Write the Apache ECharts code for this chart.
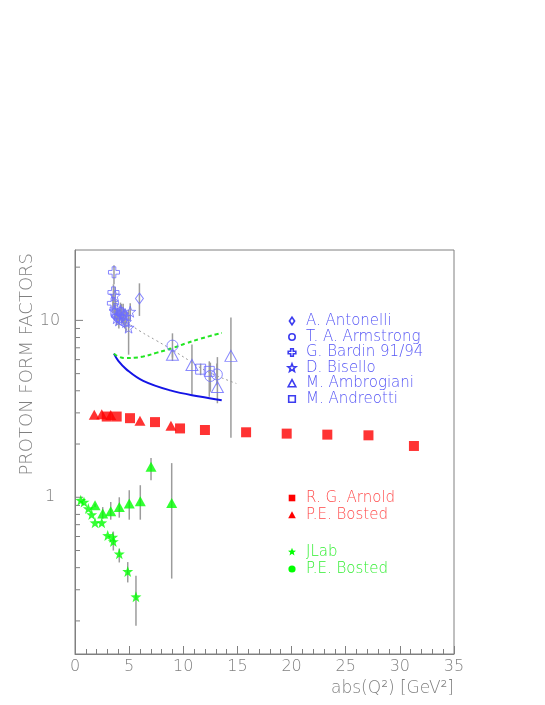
<!DOCTYPE html>
<html><head><meta charset="utf-8">
<script src="https://cdn.jsdelivr.net/npm/echarts@6/dist/echarts.min.js"></script>
<style>html,body{margin:0;padding:0;background:#fff}#c{width:545px;height:705px}</style>
</head><body><div id="c"></div>
<script>
// ---------- data ----------
const xMin = 0, xMax = 35, xStep = 5;
const yMin = 0.13, yMax = 25;
const yLabelValues = [1, 10];
const yMajorTicks = [1, 10];
const yMinorTicks = [0.2,0.3,0.4,0.5,0.6,0.7,0.8,0.9,2,3,4,5,6,7,8,9,20];

// [Q2, value, errLow, errHigh]
const antonelli = [[5.95,13.3,10.6,16.2]];
const armstrong = [[3.8,10.9,10.2,11.6],[4.1,10.4,9.8,11.0],[4.35,10.1,9.6,10.7],[9.0,7.2,6.17,8.45],[12.5,4.85,3.95,5.77],[13.1,4.95,4.3,5.7]];
const bardin = [[3.6,18.7,16.0,20.5],[3.55,14.4,12.0,16.0],[3.5,12.5,11.0,14.0],[3.75,11.6,10.2,13.0],[3.95,10.6,9.6,11.8],[4.3,11.0,9.8,12.4],[4.6,10.4,9.0,11.6]];
const bisello = [[3.7,13.8,12.0,15.5],[3.65,11.3,10.0,12.5],[3.85,10.3,9.4,11.3],[4.05,10.0,9.0,11.2],[4.2,11.4,10.2,12.6],[4.45,10.8,9.5,12.4],[4.7,9.8,8.6,11.2],[4.95,9.1,6.4,11.5],[5.1,11.2,10.0,12.5]];
const ambrogiani = [[9.0,6.4,5.9,7.0],[10.8,5.6,3.8,7.3],[13.15,4.2,3.4,6.2],[14.4,6.3,2.17,10.4]];
const andreotti = [[11.6,5.3,4.9,5.7],[12.4,5.15,3.7,5.87]];
const arnold = [[2.93,2.86],[3.85,2.86],[5.08,2.80],[7.39,2.66],[9.7,2.45],[12.0,2.40],[15.8,2.33],[19.55,2.29],[23.3,2.26],[27.1,2.24],[31.3,1.95]];
const bostedRed = [[1.78,2.93],[2.47,2.95],[3.3,2.92],[6.0,2.71],[8.86,2.54]];
const jlab = [[0.53,0.962],[0.83,0.94],[1.23,0.863],[1.54,0.798],[1.85,0.718],[2.47,0.718],[3.02,0.608],[3.48,0.595],[3.54,0.562,0.50,0.64],[4.09,0.479,0.428,0.513],[4.87,0.381,0.33,0.43],[5.63,0.274,0.188,0.36]];
const bostedGreen = [[1.85,0.90,0.88,0.92],[2.56,0.81,0.755,0.88],[3.30,0.833,0.747,0.94],[4.09,0.881,0.767,1.0],[5.01,0.921,0.747,1.096],[6.03,0.949,0.747,1.17],[7.02,1.49,1.25,1.67],[8.93,0.928,0.347,1.56]];
const bostedGreenCircles = [];
const fitDotted = [[4.0,10.5],[6.0,8.7],[7.5,7.7],[9.0,6.8],[10.6,5.9],[12.2,5.15],[14.9,4.4]];
const curveBlue = [[3.6,6.49],[4.0,5.9],[4.77,5.27],[6.3,4.55],[8.8,4.02],[11.5,3.71],[13.55,3.54]];
const curveGreen = [[3.6,6.49],[4.0,6.25],[4.7,6.12],[5.5,6.15],[6.3,6.25],[7.5,6.55],[9.08,7.0],[10.2,7.4],[11.5,7.85],[13.55,8.5]];

const legendBlue = ['A. Antonelli','T. A. Armstrong','G. Bardin 91/94','D. Bisello','M. Ambrogiani','M. Andreotti'];
const legendRed = ['R. G. Arnold','P.E. Bosted'];
const legendGreen = ['JLab','P.E. Bosted'];
const yTitle = 'PROTON FORM FACTORS';
const xTitle = 'abs(Q\u00B2) [GeV\u00B2]';

// ---------- style ----------
const BLUE = '#6b6bff', BLUE_TXT = '#5555f5', RED = '#ff0000', RED_TXT = '#ff4a4a', GREEN = '#00ff00', GREEN_TXT = '#33ee33', GRAY = '#808080';
const FONT = 'DejaVu Sans';
const STAR = 'path://M0,-10L2.35,-3.24L9.51,-3.09L3.8,1.24L5.88,8.09L0,4L-5.88,8.09L-3.8,1.24L-9.51,-3.09L-2.35,-3.24Z';
const CROSS = 'path://M-1,-3L1,-3L1,-1L3,-1L3,1L1,1L1,3L-1,3L-1,1L-3,1L-3,-1L-1,-1Z';

const chart = echarts.init(document.getElementById('c'), null, {renderer: 'canvas'});

function hollow(name, data, symbol, size) {
  return {name, type: 'scatter', data, symbol, symbolSize: size, z: 5,
    itemStyle: {color: 'rgba(0,0,0,0)', borderColor: BLUE, borderWidth: 1}, encode: {x: 0, y: 1}};
}
function filled(name, data, symbol, size, color) {
  return {name, type: 'scatter', data, symbol, symbolSize: size, z: 5,
    itemStyle: {color, borderWidth: 0}, encode: {x: 0, y: 1}};
}
const errData = [].concat(antonelli, armstrong, bardin, bisello, ambrogiani, andreotti, jlab, bostedGreen).filter(d => d.length === 4);
function errRender(params, api) {
  const x = api.value(0);
  const a = api.coord([x, api.value(2)]), b = api.coord([x, api.value(3)]);
  return {type: 'line', shape: {x1: a[0], y1: a[1], x2: b[0], y2: b[1]}, style: {stroke: '#9c9c9c', lineWidth: 1.5}};
}
function tickRender(len) {
  return function (params, api) {
    const p = api.coord([0, api.value(1)]);
    return {type: 'line', shape: {x1: p[0], y1: p[1], x2: p[0] + len, y2: p[1]}, style: {stroke: GRAY, lineWidth: 1}};
  };
}

// legend markers (graphic)
function poly(pts, cx, cy) { return pts.map(p => [cx + p[0], cy + p[1]]); }
function starPts(R, r) { const o = []; for (let i = 0; i < 10; i++) { const a = -Math.PI / 2 + i * Math.PI / 5, rr = i % 2 ? r : R; o.push([rr * Math.cos(a), rr * Math.sin(a)]); } return o; }
function marker(kind, cx, cy, color, fill) {
  const style = fill ? {fill: color, stroke: null} : {fill: null, stroke: color, lineWidth: 1.6};
  if (kind === 'circle') return {type: 'circle', shape: {cx, cy, r: fill ? 3.6 : 3.2}, style};
  if (kind === 'square') return {type: 'rect', shape: {x: cx - 3.3, y: cy - 3.3, width: 6.6, height: 6.6}, style};
  let pts;
  if (kind === 'diamond') pts = [[0,-3.8],[2.6,0],[0,3.8],[-2.6,0]];
  if (kind === 'triangle') pts = [[0,-3.8],[3.8,3.2],[-3.8,3.2]];
  if (kind === 'cross') pts = [[-1.3,-3.8],[1.3,-3.8],[1.3,-1.3],[3.8,-1.3],[3.8,1.3],[1.3,1.3],[1.3,3.8],[-1.3,3.8],[-1.3,1.3],[-3.8,1.3],[-3.8,-1.3],[-1.3,-1.3]];
  if (kind === 'star') pts = starPts(4.2, 1.8);
  return {type: 'polygon', shape: {points: poly(pts, cx, cy)}, style};
}
function label(text, x, y, color) {
  return {type: 'text', x, y, style: {text, fill: color, fontSize: 15, fontFamily: FONT, fontWeight: 200, align: 'left', verticalAlign: 'middle'}};
}
const graphics = [];
const blueKinds = ['diamond','circle','cross','star','triangle','square'];
const blueY = [321, 337, 352.5, 368, 383.5, 399];
legendBlue.forEach((t, i) => { graphics.push(marker(blueKinds[i], 292, blueY[i], '#3c3cf0', false)); graphics.push(label(t, 306, blueY[i], BLUE_TXT)); });
const redY = [498, 515];
graphics.push(marker('square', 292, redY[0], RED, true)); graphics.push(label(legendRed[0], 306, redY[0], RED_TXT));
graphics.push(marker('triangle', 292, redY[1], RED, true)); graphics.push(label(legendRed[1], 306, redY[1], RED_TXT));
const greenY = [552, 569];
graphics.push(marker('star', 292, greenY[0], GREEN, true)); graphics.push(label(legendGreen[0], 306, greenY[0], GREEN_TXT));
graphics.push(marker('circle', 292, greenY[1], GREEN, true)); graphics.push(label(legendGreen[1], 306, greenY[1], GREEN_TXT));
graphics.push({type: 'text', x: 27, y: 253, rotation: Math.PI / 2,
  style: {text: yTitle, fill: GRAY, fontSize: 18, fontFamily: FONT, fontWeight: 200, align: 'right', verticalAlign: 'middle'}});
graphics.push({type: 'text', x: 454, y: 689,
  style: {text: xTitle, fill: GRAY, fontSize: 17, fontFamily: FONT, fontWeight: 200, align: 'right', verticalAlign: 'middle'}});

const option = {
  animation: false,
  backgroundColor: '#fff',
  grid: {left: 75, right: 91, top: 250, bottom: 51, show: true, borderColor: GRAY, borderWidth: 1, containLabel: false},
  xAxis: {type: 'value', min: xMin, max: xMax, interval: xStep,
    axisLine: {lineStyle: {color: GRAY, width: 1}},
    axisTick: {inside: true, length: 8, lineStyle: {color: GRAY}},
    minorTick: {show: true, splitNumber: 5, length: 5, lineStyle: {color: GRAY}},
    splitLine: {show: false},
    axisLabel: {color: GRAY, fontSize: 16, fontFamily: FONT, fontWeight: 200, margin: 5}},
  yAxis: {type: 'log', logBase: 10, min: yMin, max: yMax,
    axisLine: {lineStyle: {color: GRAY, width: 1}},
    axisTick: {show: false}, splitLine: {show: false}, minorTick: {show: false},
    axisLabel: {color: GRAY, fontSize: 16, fontFamily: FONT, fontWeight: 200, margin: 25, align: 'center',
      showMinLabel: true, showMaxLabel: true,
      formatter: v => { const m = yLabelValues.find(t => Math.abs(Math.log10(v) - Math.log10(t)) < 1e-6); return m === undefined ? '' : String(m); }}},
  graphic: graphics,
  series: [
    {type: 'custom', name: 'minorTicks', data: yMinorTicks.map(v => [0, v]), renderItem: tickRender(5), clip: false, silent: true, z: 1},
    {type: 'custom', name: 'majorTicks', data: yMajorTicks.map(v => [0, v]), renderItem: tickRender(8), clip: false, silent: true, z: 1},
    {type: 'custom', name: 'errors', data: errData, renderItem: errRender, silent: true, z: 2, encode: {x: 0, y: [1, 2, 3]}},
    {type: 'line', name: 'fit', data: fitDotted, smooth: true, showSymbol: false, z: 3, lineStyle: {color: '#9a9a9a', width: 1, type: [2, 3]}},
    {type: 'line', name: 'curveBlue', data: curveBlue, smooth: 0.4, showSymbol: false, z: 3, lineStyle: {color: '#1414e6', width: 2}},
    {type: 'line', name: 'curveGreen', data: curveGreen, smooth: true, showSymbol: false, z: 3, lineStyle: {color: '#22e622', width: 2, type: [4, 3]}},
    hollow(legendBlue[0], antonelli, 'diamond', [8, 11]),
    hollow(legendBlue[1], armstrong, 'circle', 11),
    hollow(legendBlue[2], bardin, CROSS, 11),
    hollow(legendBlue[3], bisello, STAR, 11),
    hollow(legendBlue[4], ambrogiani, 'triangle', [12, 11]),
    hollow(legendBlue[5], andreotti, 'rect', 10),
    filled(legendRed[0], arnold, 'rect', 10, RED),
    filled(legendRed[1], bostedRed, 'triangle', [11, 10], RED),
    filled(legendGreen[0], jlab, STAR, 11, GREEN),
    filled(legendGreen[1], bostedGreen, 'triangle', [11, 10], GREEN),
    filled('P.E. Bosted circles', bostedGreenCircles, 'circle', 9, GREEN)
  ]
};
chart.setOption(option);
</script></body></html>
